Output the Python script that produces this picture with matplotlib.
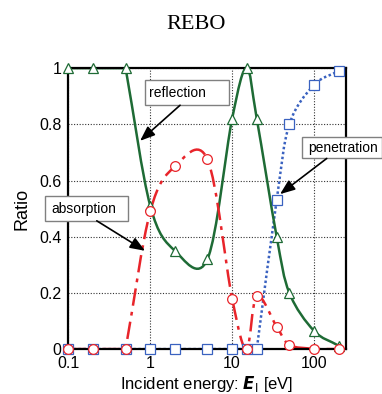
import numpy as np
import matplotlib
matplotlib.use('Agg')
import matplotlib.pyplot as plt
from matplotlib.path import Path
from matplotlib.patches import PathPatch, Rectangle

plt.rcParams['font.family'] = ['Liberation Sans', 'DejaVu Sans']

# incident energy [eV]
energy = [0.1, 0.2, 0.5, 1, 2, 5, 10, 15, 20, 35, 50, 100, 200]

reflection = [1.0, 1.0, 1.0, 0.51, 0.35, 0.32, 0.82, 1.0, 0.82, 0.40, 0.20, 0.065, 0.012]
absorption = [0.0, 0.0, 0.0, 0.49, 0.65, 0.675, 0.18, 0.0, 0.19, 0.08, 0.015, 0.0, 0.0]
penetration = [0.0, 0.0, 0.0, 0.0, 0.0, 0.0, 0.0, 0.0, 0.0, 0.53, 0.80, 0.94, 0.99]

xticks = [0.1, 1, 10, 100]
xticklabels = ['0.1', '1', '10', '100']
yticks = [0, 0.2, 0.4, 0.6, 0.8, 1]
yticklabels = ['0', '0.2', '0.4', '0.6', '0.8', '1']


def smooth_path(x, y):
    # catmull-rom style bezier in log-x space, flat runs kept straight
    P = np.column_stack([np.log10(x), np.asarray(y, float)])
    n = len(P)
    flat = [y[i] == y[i + 1] for i in range(n - 1)]
    verts = [(x[0], y[0])]
    codes = [Path.MOVETO]
    for i in range(n - 1):
        if flat[i]:
            c1 = P[i] + (P[i + 1] - P[i]) / 3
            c2 = P[i + 1] - (P[i + 1] - P[i]) / 3
        else:
            if i == 0 or flat[i - 1]:
                c1 = P[i] + (P[i + 1] - P[i]) / 3
            else:
                c1 = P[i] + (P[i + 1] - P[i - 1]) / 6
            if i + 1 == n - 1 or flat[i + 1]:
                c2 = P[i + 1] - (P[i + 1] - P[i]) / 3
            else:
                c2 = P[i + 1] - (P[i + 2] - P[i]) / 6
        for c in (c1, c2, P[i + 1]):
            verts.append((10 ** c[0], c[1]))
        codes += [Path.CURVE4] * 3
    return Path(verts, codes)


fig = plt.figure(figsize=(3.82, 3.94), dpi=100)
ax = fig.add_axes([0.179, 0.114, 0.726, 0.713])
ax.set_xscale('log')
ax.set_xlim(0.1, 244)
ax.set_ylim(0, 1)

ax.grid(True, which='major', color='0.2', linestyle=(0, (1, 1.5)), linewidth=0.8)
ax.set_axisbelow(True)

series = [
    (penetration, '#3a62c0', (0, (1, 1)), 's'),
    (reflection, '#1e6b35', '-', '^'),
    (absorption, '#e8242a', (0, (7, 2.5, 1.5, 2.5)), 'o'),
]
for vals, col, ls, mk in series:
    p = PathPatch(smooth_path(energy, vals), facecolor='none', edgecolor=col,
                  linestyle=ls, linewidth=1.8, zorder=3)
    ax.add_patch(p)

for vals, col, ls, mk in series:
    ax.plot(energy, vals, linestyle='none', marker=mk, markersize=7,
            markerfacecolor='white', markeredgecolor=col, markeredgewidth=0.9,
            zorder=4, clip_on=False)

for s in ax.spines.values():
    s.set_linewidth(1.6)
    s.set_zorder(3.5)
ax.tick_params(length=0, labelsize=11.5, pad=5)
ax.set_xticks(xticks)
ax.set_xticklabels(xticklabels)
ax.set_xticks([], minor=True)
ax.set_yticks(yticks)
ax.set_yticklabels(yticklabels)

ax.set_ylabel('Ratio', fontsize=13, labelpad=6)
ax.set_xlabel(r'Incident energy: $\boldsymbol{E}_\mathrm{I}$ [eV]', fontsize=12, labelpad=2)
fig.text(0.512, 0.938, 'REBO', family='Liberation Serif', fontsize=16,
         ha='center', va='center')

# callouts: (label, box x0, y0, x1, y1, text x, text y, arrow start, arrow tip) in axes fraction
callouts = [
    ('reflection', 0.2765, 0.868, 0.5793, 0.957, 0.292, 0.911, (0.4027, 0.868), (0.2585, 0.7413)),
    ('penetration', 0.8414, 0.6786, 1.130, 0.7555, 0.865, 0.716, (0.9315, 0.6786), (0.7632, 0.5516)),
    ('absorption', -0.084, 0.4566, 0.2155, 0.5456, -0.0598, 0.500, (0.1024, 0.4566), (0.2765, 0.3498)),
]
for lab, x0, y0, x1, y1, tx, ty, a0, a1 in callouts:
    ax.add_patch(Rectangle((x0, y0), x1 - x0, y1 - y0, transform=ax.transAxes,
                           facecolor='white', edgecolor='0.5', linewidth=1,
                           zorder=5, clip_on=False))
    ax.text(tx, ty, lab, transform=ax.transAxes, fontsize=10, ha='left',
            va='center', zorder=6, clip_on=False)
    ax.annotate('', xy=a1, xytext=a0, xycoords='axes fraction',
                textcoords='axes fraction', annotation_clip=False, zorder=6,
                arrowprops=dict(arrowstyle='-|>,head_length=0.9,head_width=0.35',
                                color='black', lw=1.2, shrinkA=0, shrinkB=0))

fig.savefig('out.png', dpi=100)
